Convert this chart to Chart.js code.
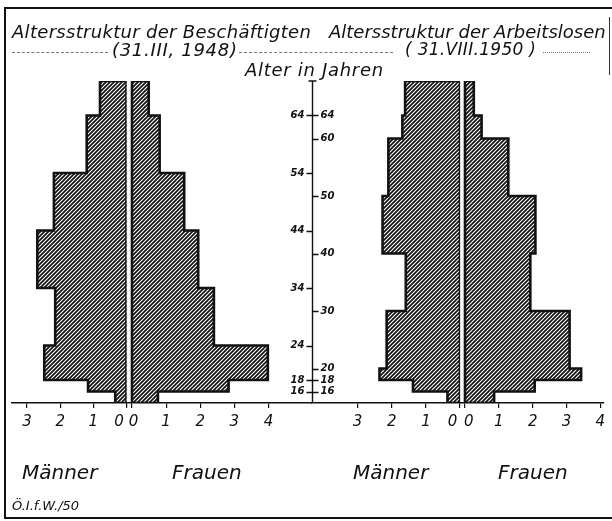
<!DOCTYPE html>
<html lang="de">
<head>
<meta charset="utf-8">
<script src="https://cdn.jsdelivr.net/npm/chart.js@4.4.1/dist/chart.umd.min.js"></script>
<style>
html, body { margin: 0; padding: 0; background: #fff; }
#wrap { position: relative; width: 612px; height: 521px; overflow: hidden; }
#frame { position: absolute; left: 4px; top: 7px; width: 640px; height: 508px;
	border-left: 2.5px solid #111; border-top: 2.5px solid #111; border-bottom: 2px solid #111; }
#edge { position: absolute; left: 609px; top: 17px; height: 58px; border-left: 1.5px solid #333; }
canvas { position: absolute; left: 0; top: 0; }
.t { position: absolute; font-family: 'DejaVu Sans', sans-serif; font-style: italic; color: #111; white-space: nowrap; line-height: 1; }
.lead { position: absolute; height: 0; border-top: 1px dashed #777; }
.sex { font-size: 20px; top: 462px; }
</style>
</head>
<body>
<div id="wrap">
	<div id="frame"></div>
	<div id="edge"></div>
	<canvas id="chartCanvas" width="612" height="521"></canvas>
	<div class="t" style="left:12px;top:23px;font-size:18px;letter-spacing:0.3px">Altersstruktur der Beschäftigten</div>
	<div class="t" style="left:329px;top:23px;font-size:18px">Altersstruktur der Arbeitslosen</div>
	<div class="lead" style="left:12px;top:52px;width:96px"></div>
	<div class="t" style="left:112px;top:41px;font-size:18px;letter-spacing:0.7px">(31.III, 1948)</div>
	<div class="lead" style="left:239px;top:52px;width:154px"></div>
	<div class="t" style="left:405px;top:41px;font-size:17px;letter-spacing:0.3px">( 31.VIII.1950 )</div>
	<div class="lead" style="left:543px;top:52px;width:47px;border-top-style:dotted"></div>
	<div class="t" style="left:245px;top:61px;font-size:18px;letter-spacing:0.7px">Alter in Jahren</div>
	<div class="t sex" style="left:22px">Männer</div>
	<div class="t sex" style="left:172px">Frauen</div>
	<div class="t sex" style="left:353px">Männer</div>
	<div class="t sex" style="left:498px">Frauen</div>
	<div class="t" style="left:12px;top:499px;font-size:13px">Ö.I.f.W./50</div>
</div>
<script>
// Altersgrenzen (unten -> oben) und Anteile in %
const leftAges = [14, 16, 18, 24, 34, 44, 54, 64, 70];
const leftMen = [0.34, 1.16, 2.48, 2.15, 2.69, 2.19, 1.20, 0.80];
const leftWomen = [0.76, 2.83, 3.98, 2.40, 1.94, 1.53, 0.81, 0.49];

const rightAges = [14, 16, 18, 20, 30, 40, 50, 60, 64, 70];
const rightMen = [0.37, 1.38, 2.36, 2.15, 1.59, 2.27, 2.10, 1.69, 1.61];
const rightWomen = [0.86, 2.06, 3.43, 3.09, 1.93, 2.08, 1.28, 0.49, 0.26];

// Beschriftung der Altersachse (links: Beschäftigte, rechts: Arbeitslose)
const leftAxisTicks = [16, 18, 24, 34, 44, 54, 64];
const rightAxisTicks = [16, 18, 20, 30, 40, 50, 60, 64];

const menTicks = [0, 1, 2, 3];
const womenTicks = [0, 1, 2, 3, 4];

function hatch() {
	const c = document.createElement('canvas');
	c.width = 4;
	c.height = 4;
	const g = c.getContext('2d');
	g.strokeStyle = '#111';
	g.lineWidth = 1.7;
	g.beginPath();
	g.moveTo(0, 4); g.lineTo(4, 0);
	g.moveTo(-1, 1); g.lineTo(1, -1);
	g.moveTo(3, 5); g.lineTo(5, 3);
	g.stroke();
	return g.createPattern(c, 'repeat');
}

// Umriss einer Pyramidenhaelfte als geschlossener Stufenzug
function outline(ages, values) {
	const pts = [{x: 0, y: ages[0]}];
	values.forEach((v, i) => {
		pts.push({x: v, y: ages[i]});
		pts.push({x: v, y: ages[i + 1]});
	});
	pts.push({x: 0, y: ages[ages.length - 1]});
	pts.push({x: 0, y: ages[0]});
	return pts;
}

const pattern = hatch();

function half(ages, values, axis) {
	return {
		data: outline(ages, values),
		xAxisID: axis,
		yAxisID: 'y',
		borderColor: '#111',
		borderWidth: 2.6,
		borderJoinStyle: 'miter',
		backgroundColor: pattern,
		fill: 'shape',
		stepped: true,
		pointRadius: 0,
		tension: 0
	};
}

const tickFont = {family: 'DejaVu Sans', style: 'italic', size: 15};

function bottomScale(weight, min, max, reverse, ticks, zeroLabel) {
	return {
		type: 'linear',
		position: 'bottom',
		stack: 'base',
		stackWeight: weight,
		min: min,
		max: max,
		reverse: reverse,
		afterBuildTicks: s => { s.ticks = ticks.map(v => ({value: v})); },
		afterFit: s => { s.height = 30; },
		grid: {drawOnChartArea: false, drawTicks: true, tickLength: 5, color: '#111', lineWidth: 1.2},
		border: {display: true, color: '#111', width: 1.6},
		ticks: {
			color: '#111', font: tickFont, padding: 5, maxRotation: 0, autoSkip: false,
			callback: v => (v === 0 ? zeroLabel : String(v))
		}
	};
}

const ageAxis = {
	id: 'ageAxis',
	afterDatasetsDraw(chart) {
		const {ctx, scales: {y, xLf}} = chart;
		const x = Math.round(xLf.right) + 0.5;
		const top = y.getPixelForValue(y.max);
		const bottom = y.getPixelForValue(y.min);
		ctx.save();
		ctx.strokeStyle = '#111';
		ctx.lineWidth = 1.4;
		ctx.beginPath();
		ctx.moveTo(x, top); ctx.lineTo(x, bottom);
		ctx.moveTo(x - 4, top); ctx.lineTo(x + 4, top);
		leftAxisTicks.forEach(a => {
			const py = Math.round(y.getPixelForValue(a)) + 0.5;
			ctx.moveTo(x - 6, py); ctx.lineTo(x, py);
		});
		rightAxisTicks.forEach(a => {
			const py = Math.round(y.getPixelForValue(a)) + 0.5;
			ctx.moveTo(x, py); ctx.lineTo(x + 6, py);
		});
		ctx.stroke();
		ctx.fillStyle = '#111';
		ctx.font = 'italic bold 10px "DejaVu Sans"';
		ctx.textBaseline = 'middle';
		ctx.textAlign = 'right';
		leftAxisTicks.forEach(a => ctx.fillText(String(a), x - 8, y.getPixelForValue(a)));
		ctx.textAlign = 'left';
		rightAxisTicks.forEach(a => ctx.fillText(String(a), x + 8, y.getPixelForValue(a)));
		ctx.restore();
	}
};

const ctx = document.getElementById('chartCanvas').getContext('2d');
const chart = new Chart(ctx, {
	type: 'line',
	data: {
		datasets: [
			half(leftAges, leftMen, 'xLm'),
			half(leftAges, leftWomen, 'xLf'),
			half(rightAges, rightMen, 'xRm'),
			half(rightAges, rightWomen, 'xRf')
		]
	},
	options: {
		responsive: false,
		animation: false,
		events: [],
		layout: {padding: {left: 6, right: 4, top: 81, bottom: 88}},
		plugins: {legend: {display: false}, tooltip: {enabled: false}},
		scales: {
			xLm: bottomScale(117, 0, 3.47, true, menTicks, '0\u2002\u2002'),
			xLf: bottomScale(188, -0.16, 5.26, false, womenTicks, '\u20090'),
			xRm: bottomScale(151, 0, 4.35, true, menTicks, '0\u2002\u2002'),
			xRf: bottomScale(146, -0.145, 4.099, false, womenTicks, '\u20020'),
			y: {type: 'linear', display: false, min: 14, max: 70}
		}
	},
	plugins: [ageAxis]
});
</script>
</body>
</html>
